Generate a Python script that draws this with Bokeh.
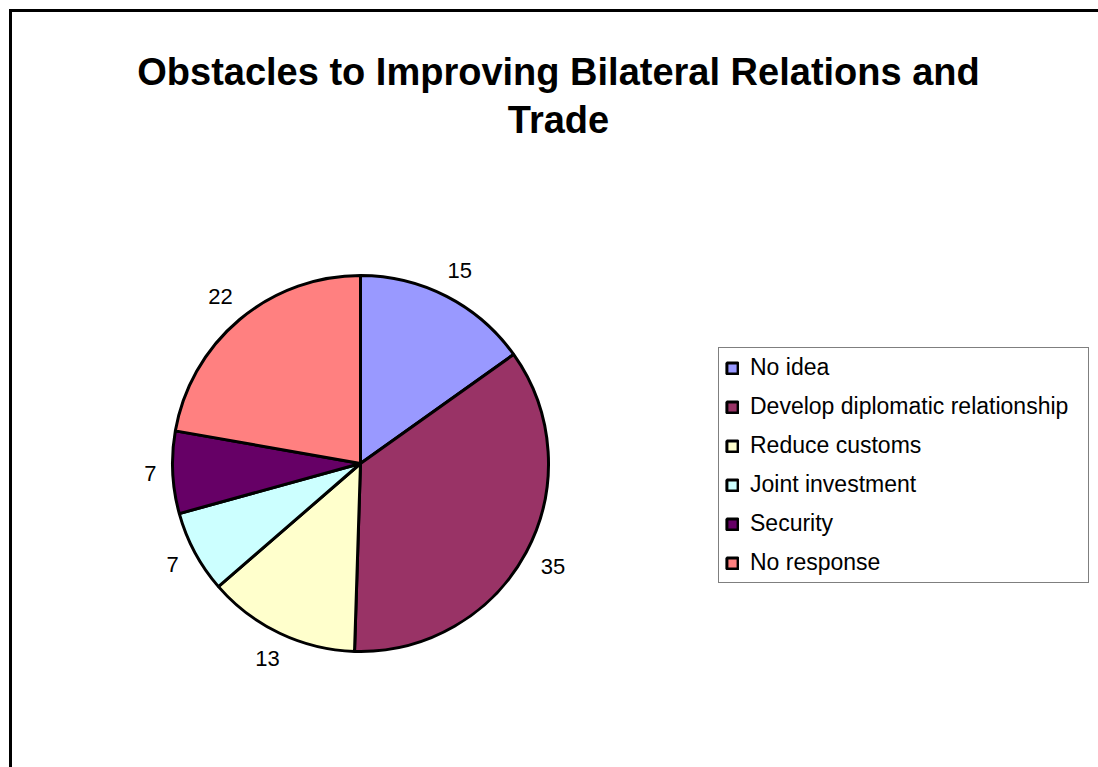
import math
from bokeh.plotting import figure
from bokeh.models import Range1d, ColumnDataSource
from bokeh.core.properties import value
from bokeh.embed import file_html
from bokeh.resources import INLINE

# ---- data ----
categories = ["No idea", "Develop diplomatic relationship", "Reduce customs",
              "Joint investment", "Security", "No response"]
counts = [15, 35, 13, 7, 7, 22]
colors = ["#9999FF", "#993366", "#FFFFCC", "#CCFFFF", "#660066", "#FF8080"]
title_lines = ["Obstacles to Improving Bilateral Relations and", "Trade"]

# ---- layout (screen px == data units) ----
W, H = 1098, 767
CX, CY, R = 360, 304, 188

total = float(sum(counts))
starts, ends, lx, ly, labels = [], [], [], [], []
cum = 0.0
for v in counts:
    a0 = math.pi / 2 - 2 * math.pi * cum / total
    a1 = math.pi / 2 - 2 * math.pi * (cum + v) / total
    starts.append(a0)
    ends.append(a1)
    mid = (a0 + a1) / 2
    s = str(v)
    hw, hh = 6 * len(s), 8
    support = hw * abs(math.cos(mid)) + hh * abs(math.sin(mid))
    rl = R + 16 + support
    lx.append(CX + rl * math.cos(mid))
    ly.append(CY + rl * math.sin(mid))
    labels.append(s)
    cum += v

src = ColumnDataSource(dict(cat=categories, val=counts, color=colors,
                            start=starts, end=ends, x=[CX] * len(counts),
                            y=[CY] * len(counts)))
lsrc = ColumnDataSource(dict(x=lx, y=ly, t=labels))

p = figure(width=W, height=H, x_range=Range1d(0, W), y_range=Range1d(0, H),
           output_backend="svg", toolbar_location=None, min_border=0,
           x_axis_location=None, y_axis_location=None)
p.grid.visible = False
p.outline_line_color = None
p.background_fill_color = "white"
p.border_fill_color = "white"

# chart-area border (left & top edges visible; the rest runs off the page)
p.line(x=[10, 10, W + 20], y=[-20, H - 10, H - 10], line_color="black",
       line_width=3, line_join="miter")

p.wedge(x="x", y="y", radius=R, start_angle="start", end_angle="end",
        direction="clock", fill_color="color", line_color="black",
        line_width=3, source=src, legend_field="cat")

p.text(x="x", y="y", text="t", source=lsrc, text_align="center",
       text_baseline="middle", text_font=value("Liberation Sans"),
       text_font_size="22px", text_color="black")

# title
for i, line in enumerate(title_lines):
    p.text(x=[558], y=[H - 71 - 48 * i], text=[line], text_align="center",
           text_baseline="alphabetic", text_font=value("Liberation Sans"),
           text_font_style="bold", text_font_size="38px", text_color="black")

lg = p.legend[0]
lg.location = (718, 184)
lg.label_text_font = "Liberation Sans"
lg.label_text_font_size = "23px"
lg.label_text_color = "black"
lg.glyph_width = 14
lg.glyph_height = 14
lg.label_standoff = 11
lg.label_width = 332
lg.label_height = 20
lg.spacing = 12
lg.padding = 6
lg.margin = 0
lg.border_line_color = "black"
lg.border_line_width = 1
lg.background_fill_color = "white"
lg.background_fill_alpha = 1.0

open("out.html", "w").write(file_html(p, INLINE))
